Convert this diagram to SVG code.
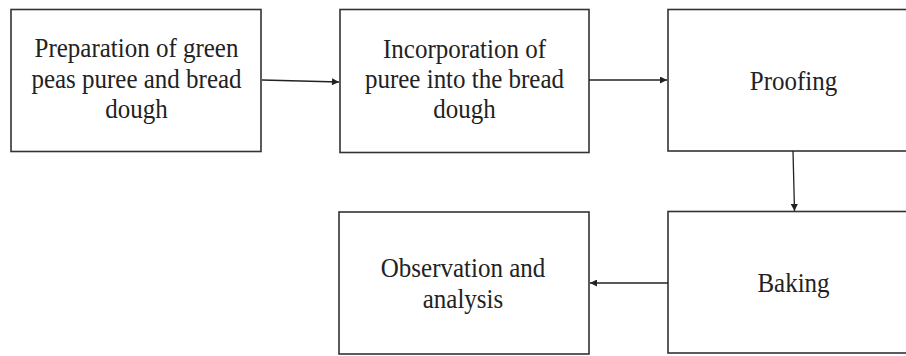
<svg xmlns="http://www.w3.org/2000/svg" width="906" height="356" viewBox="0 0 906 356">
<style>
.box{fill:#fff;stroke:#333;stroke-width:1.6}
.lbl{font-family:"Liberation Serif","Times New Roman",serif;font-size:25px;fill:#222;text-anchor:middle}
.con{stroke:#222;stroke-width:1.3;fill:none}
</style>
<defs>
<marker id="ah" viewBox="0 0 10 10" refX="10" refY="5" markerWidth="9" markerHeight="7" markerUnits="userSpaceOnUse" orient="auto">
<path d="M0,0 L10,5 L0,10 z" fill="#222"/>
</marker>
</defs>
<rect width="906" height="356" fill="#fff"/>
<g id="n1">
<rect class="box" x="11" y="9.5" width="250" height="142"/>
<text class="lbl" transform="translate(136.5,57) scale(1,1.09)">Preparation of green</text>
<text class="lbl" transform="translate(136.5,88) scale(1,1.09)">peas puree and bread</text>
<text class="lbl" transform="translate(136.5,118) scale(1,1.09)">dough</text>
</g>
<g id="n2">
<rect class="box" x="340" y="9.5" width="249" height="143"/>
<text class="lbl" transform="translate(464.5,58) scale(1,1.09)">Incorporation of</text>
<text class="lbl" transform="translate(464.5,88) scale(1,1.09)">puree into the bread</text>
<text class="lbl" transform="translate(464.5,118) scale(1,1.09)">dough</text>
</g>
<g id="n3">
<rect class="box" x="668" y="9.5" width="251" height="141.5"/>
<text class="lbl" transform="translate(793.5,90) scale(1,1.09)">Proofing</text>
</g>
<g id="n4">
<rect class="box" x="668" y="211.5" width="251" height="141.5"/>
<text class="lbl" transform="translate(793.5,292) scale(1,1.09)">Baking</text>
</g>
<g id="n5">
<rect class="box" x="339" y="212" width="250" height="142"/>
<text class="lbl" transform="translate(463,277) scale(1,1.09)">Observation and</text>
<text class="lbl" transform="translate(463,308) scale(1,1.09)">analysis</text>
</g>
<g id="connectors">
<line class="con" x1="262" y1="80" x2="339" y2="82" marker-end="url(#ah)"/>
<line class="con" x1="589" y1="80" x2="667" y2="80" marker-end="url(#ah)"/>
<line class="con" x1="793" y1="151" x2="794.5" y2="211" marker-end="url(#ah)"/>
<line class="con" x1="668" y1="283" x2="590" y2="283" marker-end="url(#ah)"/>
</g>
</svg>
